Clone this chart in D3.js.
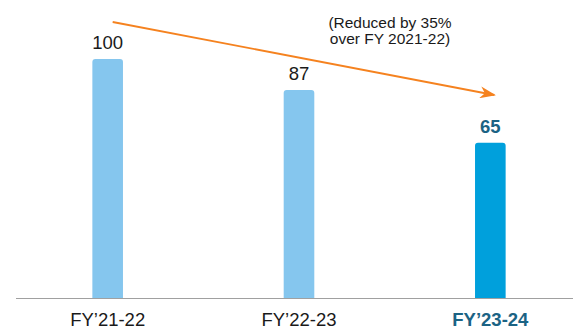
<!DOCTYPE html>
<html>
<head>
<meta charset="utf-8">
<script src="https://cdn.jsdelivr.net/npm/d3@7"></script>
<style>
  html, body { margin: 0; padding: 0; background: #fff; }
  svg { display: block; font-family: "Liberation Sans", Arial, Helvetica, sans-serif; }
</style>
</head>
<body>
<svg id="chart" width="573" height="330"></svg>
<script>
// Fiscal years and indexed values (FY'21-22 = 100)
const categories = ["FY\u201921-22", "FY\u201922-23", "FY\u201923-24"];
const values = [100, 87, 65];
const highlighted = [false, false, true];
const noteLines = ["(Reduced by 35%", "over FY 2021-22)"];

const width = 573, height = 330;
const baseY = 298;

const svg = d3.select("#chart");

const x = d3.scaleBand()
  .domain(categories)
  .range([12, 586])
  .paddingInner(0.84)
  .paddingOuter(0.42);

const y = d3.scaleLinear()
  .domain([0, 100])
  .range([baseY, 59]);

const lightBlue = "#85c6ee";
const strongBlue = "#00a0dc";
const darkTeal = "#1b6384";

// Bars with rounded tops
const r = 3;
function barPath(x0, w, yTop) {
  const yB = baseY;
  return `M${x0},${yB} L${x0},${yTop + r} Q${x0},${yTop} ${x0 + r},${yTop} ` +
         `L${x0 + w - r},${yTop} Q${x0 + w},${yTop} ${x0 + w},${yTop + r} L${x0 + w},${yB} Z`;
}

svg.append("g").selectAll("path")
  .data(values)
  .join("path")
  .attr("d", (d, i) => barPath(x(categories[i]), x.bandwidth(), y(d)))
  .attr("fill", (d, i) => highlighted[i] ? strongBlue : lightBlue);

// Value labels
svg.append("g").selectAll("text")
  .data(values)
  .join("text")
  .attr("x", (d, i) => x(categories[i]) + x.bandwidth() / 2)
  .attr("y", d => y(d) - 10)
  .attr("text-anchor", "middle")
  .attr("font-size", 18.5)
  .attr("font-weight", (d, i) => highlighted[i] ? "bold" : "normal")
  .attr("fill", (d, i) => highlighted[i] ? darkTeal : "#1a1a1a")
  .text(d => d);

// Baseline axis
const axis = svg.append("g")
  .attr("transform", `translate(0,${baseY})`)
  .call(d3.axisBottom(x).tickSize(0));
axis.select(".domain").attr("d", `M16,0.5H573`).attr("stroke", "#a0a0a0").attr("stroke-width", 1.2);
axis.selectAll(".tick text")
  .attr("font-family", "\"Liberation Sans\", Arial, sans-serif")
  .attr("y", 28)
  .attr("dy", 0)
  .attr("font-size", 18.5)
  .attr("font-weight", (d, i) => highlighted[i] ? "bold" : "normal")
  .attr("fill", (d, i) => highlighted[i] ? darkTeal : "#1a1a1a");

// Trend arrow
const orange = "#f5821f";
svg.append("defs").append("marker")
  .attr("id", "arrowhead")
  .attr("viewBox", "0 0 10 10")
  .attr("refX", 9).attr("refY", 5)
  .attr("markerWidth", 16).attr("markerHeight", 12)
  .attr("markerUnits", "userSpaceOnUse")
  .attr("orient", "auto")
  .attr("preserveAspectRatio", "none")
  .append("path")
  .attr("d", "M0,0 L10,5 L0,10 L3,5 Z")
  .attr("fill", orange);

const x1 = x(categories[0]) + x.bandwidth() / 2 + 5;
const x2 = x(categories[2]) + x.bandwidth() / 2 + 4;
svg.append("line")
  .attr("x1", x1).attr("y1", 22)
  .attr("x2", x2).attr("y2", 95)
  .attr("stroke", orange)
  .attr("stroke-width", 1.8)
  .attr("marker-end", "url(#arrowhead)");

// Annotation
svg.append("g").selectAll("text")
  .data(noteLines)
  .join("text")
  .attr("x", 390)
  .attr("y", (d, i) => 28 + i * 16)
  .attr("text-anchor", "middle")
  .attr("font-size", 15.5)
  .attr("fill", "#1a1a1a")
  .text(d => d);
</script>
</body>
</html>
